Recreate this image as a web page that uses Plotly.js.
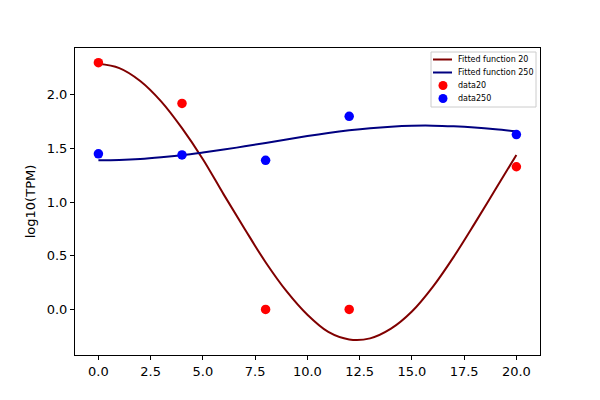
<!DOCTYPE html>
<html>
<head>
<meta charset="utf-8">
<script src="https://cdn.plot.ly/plotly-3.0.1.min.js"></script>
<style>
  html, body { margin: 0; padding: 0; background: #fff; }
  #chart { width: 600px; height: 400px; }
</style>
</head>
<body>
<div id="chart"></div>
<script>
// measured time points
const sampleX = [0, 4, 8, 12, 20];
const data20 = [2.30, 1.92, 0.0, 0.0, 1.33];
const data250 = [1.45, 1.44, 1.39, 1.80, 1.63];

// fitted curves, every 1 unit
const fitX = [0, 1, 2, 3, 4, 5, 6, 7, 8, 9, 10, 11, 12, 13, 14, 15, 16, 17, 18, 19, 20];
const fit20 = [2.29, 2.25, 2.13, 1.94, 1.69, 1.40, 1.07, 0.75, 0.44, 0.17, -0.05, -0.21, -0.28, -0.27, -0.18, -0.02, 0.21, 0.49, 0.80, 1.12, 1.44];
const fit250 = [1.390, 1.393, 1.402, 1.418, 1.438, 1.463, 1.490, 1.520, 1.552, 1.584, 1.616, 1.645, 1.670, 1.690, 1.704, 1.712, 1.713, 1.707, 1.696, 1.680, 1.660];

const xTicks = [0, 2.5, 5, 7.5, 10, 12.5, 15, 17.5, 20];
const yTicks = [0, 0.5, 1, 1.5, 2];

const font = "DejaVu Sans, sans-serif";

let traces = [
    {
        x: fitX, y: fit20, name: "Fitted function 20",
        mode: "lines", line: { color: "#800000", width: 2, shape: "spline" }
    },
    {
        x: fitX, y: fit250, name: "Fitted function 250",
        mode: "lines", line: { color: "#000080", width: 2, shape: "spline" }
    },
    {
        x: sampleX, y: data20, name: "data20",
        mode: "markers", marker: { color: "red", size: 9.5 }
    },
    {
        x: sampleX, y: data250, name: "data250",
        mode: "markers", marker: { color: "blue", size: 9.5 }
    }
];

function axis(ticks, range) {
    return {
        range: range,
        tickvals: ticks,
        ticktext: ticks.map(v => v.toFixed(1)),
        ticks: "outside",
        ticklen: 4,
        tickwidth: 1,
        tickcolor: "#000",
        showline: true,
        linecolor: "#000",
        linewidth: 1,
        mirror: true,
        showgrid: false,
        zeroline: false,
        tickfont: { family: font, size: 13, color: "#000" }
    };
}

// compact matplotlib-like legend (plotly's own rows are too tall and hide a point)
const M = { l: 75, r: 60, t: 48, b: 45 };
const plotW = 600 - M.l - M.r;
const plotH = 400 - M.t - M.b;
function px(x) { return (x - M.l) / plotW; }
function py(y) { return (400 - M.b - y) / plotH; }

let shapes = [{
    type: "rect", xref: "paper", yref: "paper", layer: "above",
    x0: px(431), x1: px(536), y0: py(52), y1: py(107),
    line: { color: "#cccccc", width: 1 }, fillcolor: "rgba(255,255,255,0.8)"
}];
let annotations = [];
const rowY = [59.5, 72.5, 85.5, 98.5];
traces.forEach(function (t, i) {
    if (t.mode === "lines") {
        shapes.push({
            type: "line", xref: "paper", yref: "paper", layer: "above",
            x0: px(433), x1: px(452), y0: py(rowY[i]), y1: py(rowY[i]),
            line: { color: t.line.color, width: 2 }
        });
    } else {
        shapes.push({
            type: "circle", xref: "paper", yref: "paper", layer: "above",
            x0: px(438.5), x1: px(447.5), y0: py(rowY[i] + 4.5), y1: py(rowY[i] - 4.5),
            line: { width: 0 }, fillcolor: t.marker.color
        });
    }
    annotations.push({
        xref: "paper", yref: "paper", x: px(456), y: py(rowY[i]),
        xanchor: "left", yanchor: "middle", showarrow: false,
        text: t.name, font: { family: font, size: 8, color: "#000" }
    });
});

let layout = {
    width: 600,
    height: 400,
    margin: M,
    paper_bgcolor: "#fff",
    plot_bgcolor: "#fff",
    xaxis: axis(xTicks, [-1.12, 21.13]),
    yaxis: Object.assign(axis(yTicks, [-0.425, 2.437]), {
        title: { text: "log10(TPM)", font: { family: font, size: 13, color: "#000" }, standoff: 8 }
    }),
    showlegend: false,
    shapes: shapes,
    annotations: annotations
};

Plotly.newPlot("chart", traces, layout, { staticPlot: true });
</script>
</body>
</html>
